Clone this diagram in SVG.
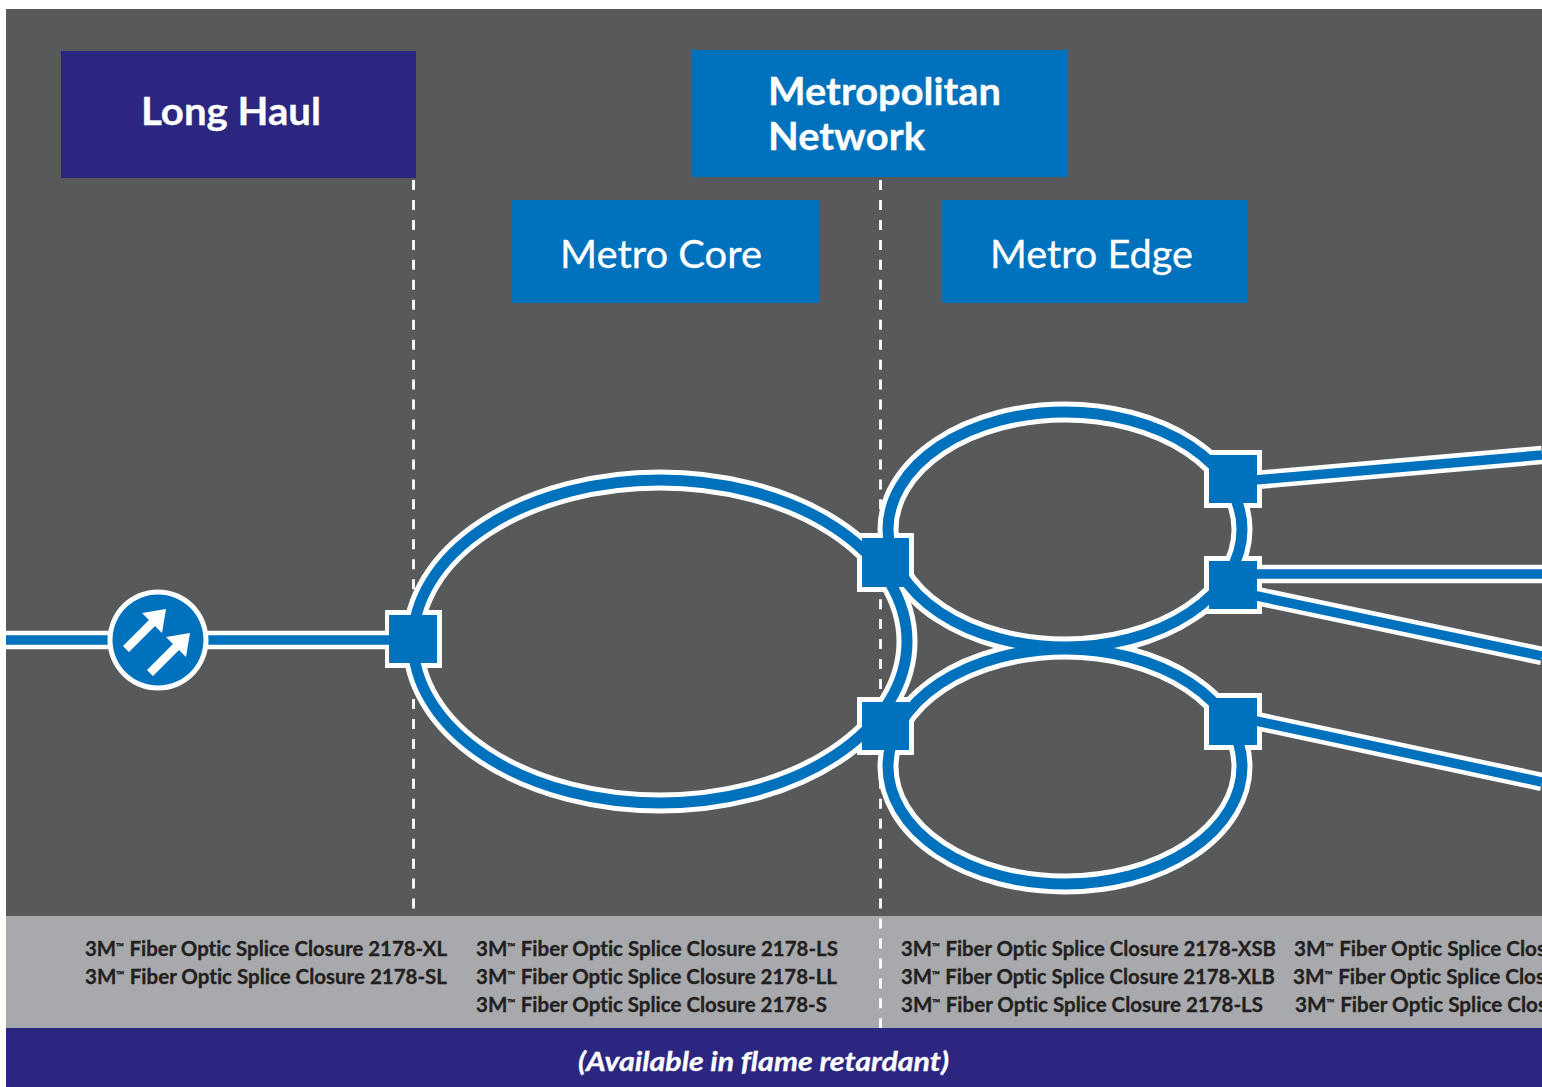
<svg xmlns="http://www.w3.org/2000/svg" width="1542" height="1087" viewBox="0 0 1542 1087">
<style>
.w{fill:none;stroke:#fff;stroke-width:18.500}
.b{fill:none;stroke:#0071bc;stroke-width:9.500}
.we{fill:none;stroke:#fff;stroke-width:21}
.be{fill:none;stroke:#0071bc;stroke-width:11}
.d{fill:none;stroke:#fff;stroke-width:2.800;stroke-dasharray:10 9.960}
.nw{fill:#fff}
.nb{fill:#0071bc}
.h{font-family:"Lato","Liberation Sans",sans-serif;fill:#fff;font-variant-ligatures:none;stroke:#fff;stroke-width:.3}
.s{font-family:"Lato","Liberation Sans",sans-serif;font-weight:700;font-size:20px;fill:#231f20;stroke:#231f20;stroke-width:.3;font-variant-ligatures:none}
.tm{font-size:11px}
</style>
<rect width="1542" height="1087" fill="#fff"/>
<rect x="6" y="9" width="1536" height="907" fill="#58595b"/>
<rect x="6" y="916" width="1536" height="112" fill="#a7a9ac"/>
<rect x="6" y="1028" width="1536" height="59" fill="#2b2680"/>
<g id="dividers">
<path class="d" d="M413.500 180V916"/>
<path class="d" d="M880.500 180V1028"/>
</g>
<g id="connectors">
<path class="w" d="M6 640H413"/>
<ellipse class="we" cx="660" cy="641.500" rx="247" ry="161.500"/>
<ellipse class="we" cx="1065" cy="529.500" rx="177" ry="117.500"/>
<ellipse class="we" cx="1065" cy="766.500" rx="177" ry="117.500"/>
<path class="w" d="M1233 482L1542 455"/>
<path class="w" d="M1233 574H1542"/>
<path class="w" d="M1233 591L1542 656"/>
<path class="w" d="M1233 716L1542 782"/>
</g>
<g id="node-whites">
<rect class="nw" x="385" y="610" width="57" height="58"/>
<rect class="nw" x="857" y="533" width="57" height="59"/>
<rect class="nw" x="857" y="697" width="57" height="58"/>
<rect class="nw" x="1204" y="450" width="58" height="58"/>
<rect class="nw" x="1204" y="556" width="58" height="58"/>
<rect class="nw" x="1204" y="693" width="58" height="57"/>
</g>
<g id="connector-cores">
<path class="b" d="M6 640H413"/>
<ellipse class="be" cx="660" cy="641.500" rx="247" ry="161.500"/>
<ellipse class="be" cx="1065" cy="529.500" rx="177" ry="117.500"/>
<ellipse class="be" cx="1065" cy="766.500" rx="177" ry="117.500"/>
<path class="b" d="M1233 482L1542 455"/>
<path class="b" d="M1233 574H1542"/>
<path class="b" d="M1233 591L1542 656"/>
<path class="b" d="M1233 716L1542 782"/>
</g>
<g id="node-1"><rect class="nb" x="389" y="615" width="48" height="48"/></g>
<g id="node-2"><rect class="nb" x="862" y="538" width="47" height="49"/></g>
<g id="node-3"><rect class="nb" x="862" y="702" width="47" height="48"/></g>
<g id="node-4"><rect class="nb" x="1209" y="455" width="48" height="48"/></g>
<g id="node-5"><rect class="nb" x="1209" y="561" width="48" height="48"/></g>
<g id="node-6"><rect class="nb" x="1209" y="698" width="48" height="47"/></g>
<g id="amplifier">
<circle cx="158" cy="640" r="50.500" fill="#fff"/>
<circle cx="158" cy="640" r="45.500" fill="#0071bc"/>
<path id="arrow-a" fill="#fff" d="M166 609L142 613L149 620L123 646L129 652L155 626L162 633Z"/>
<path id="arrow-b" fill="#fff" d="M190 633L166 637L173 644L147 670L153 676L179 650L186 657Z"/>
</g>
<g id="long-haul">
<rect x="61" y="51" width="355" height="127" fill="#2b2680"/>
<text class="h" x="141" y="125" font-size="38" font-weight="700" textLength="180" lengthAdjust="spacingAndGlyphs">Long Haul</text>
</g>
<g id="metropolitan">
<rect x="692" y="50" width="375" height="127" fill="#0071bc"/>
<text class="h" x="768" y="105" font-size="38" font-weight="700" textLength="233" lengthAdjust="spacingAndGlyphs">Metropolitan</text>
<text class="h" x="768" y="150" font-size="38" font-weight="700" textLength="157" lengthAdjust="spacingAndGlyphs">Network</text>
</g>
<g id="metro-core">
<rect x="512" y="200" width="308" height="103" fill="#0071bc"/>
<text class="h" x="560" y="268" font-size="38" textLength="202" lengthAdjust="spacingAndGlyphs">Metro Core</text>
</g>
<g id="metro-edge">
<rect x="941" y="200" width="307" height="103" fill="#0071bc"/>
<text class="h" x="990" y="268" font-size="38" textLength="203" lengthAdjust="spacingAndGlyphs">Metro Edge</text>
</g>
<g id="products">
<text class="s" x="85" y="956" textLength="362" lengthAdjust="spacingAndGlyphs">3M<tspan class="tm" dy="-5">™</tspan><tspan dy="5"> Fiber Optic Splice Closure 2178-XL</tspan></text>
<text class="s" x="85" y="984" textLength="362" lengthAdjust="spacingAndGlyphs">3M<tspan class="tm" dy="-5">™</tspan><tspan dy="5"> Fiber Optic Splice Closure 2178-SL</tspan></text>
<text class="s" x="476" y="956" textLength="362" lengthAdjust="spacingAndGlyphs">3M<tspan class="tm" dy="-5">™</tspan><tspan dy="5"> Fiber Optic Splice Closure 2178-LS</tspan></text>
<text class="s" x="476" y="984" textLength="361" lengthAdjust="spacingAndGlyphs">3M<tspan class="tm" dy="-5">™</tspan><tspan dy="5"> Fiber Optic Splice Closure 2178-LL</tspan></text>
<text class="s" x="476" y="1012" textLength="351" lengthAdjust="spacingAndGlyphs">3M<tspan class="tm" dy="-5">™</tspan><tspan dy="5"> Fiber Optic Splice Closure 2178-S</tspan></text>
<text class="s" x="901" y="956" textLength="375" lengthAdjust="spacingAndGlyphs">3M<tspan class="tm" dy="-5">™</tspan><tspan dy="5"> Fiber Optic Splice Closure 2178-XSB</tspan></text>
<text class="s" x="901" y="984" textLength="374" lengthAdjust="spacingAndGlyphs">3M<tspan class="tm" dy="-5">™</tspan><tspan dy="5"> Fiber Optic Splice Closure 2178-XLB</tspan></text>
<text class="s" x="901" y="1012" textLength="362" lengthAdjust="spacingAndGlyphs">3M<tspan class="tm" dy="-5">™</tspan><tspan dy="5"> Fiber Optic Splice Closure 2178-LS</tspan></text>
<text class="s" x="1294" y="956" textLength="252" lengthAdjust="spacingAndGlyphs">3M<tspan class="tm" dy="-5">™</tspan><tspan dy="5"> Fiber Optic Splice Clos</tspan></text>
<text class="s" x="1293" y="984" textLength="252" lengthAdjust="spacingAndGlyphs">3M<tspan class="tm" dy="-5">™</tspan><tspan dy="5"> Fiber Optic Splice Clos</tspan></text>
<text class="s" x="1295" y="1012" textLength="252" lengthAdjust="spacingAndGlyphs">3M<tspan class="tm" dy="-5">™</tspan><tspan dy="5"> Fiber Optic Splice Clos</tspan></text>
</g>
<text class="h" x="578" y="1071" font-size="26" font-weight="700" font-style="italic" textLength="371" lengthAdjust="spacingAndGlyphs">(Available in flame retardant)</text>
</svg>
